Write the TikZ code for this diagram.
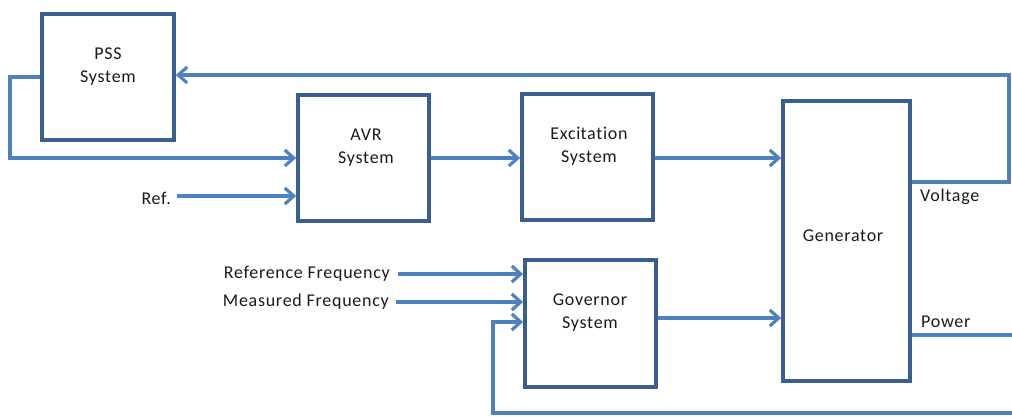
\documentclass[tikz,border=0pt]{standalone}
\usepackage{fontspec}
\setmainfont{Carlito}[LetterSpace=4,Ligatures={NoCommon}]
\usetikzlibrary{arrows.meta}
\definecolor{boxc}{HTML}{3A5F8E}
\definecolor{linec}{HTML}{4F81BD}
\definecolor{txt}{HTML}{1A1A1A}
\begin{document}
\begin{tikzpicture}[x=1pt,y=-1pt,
  blk/.style={draw=boxc,line width=3.6pt,minimum width=#1,inner sep=0pt},
  lbl/.style={text=txt,font=\fontsize{18}{23}\selectfont,align=center,inner sep=0pt},
  conn/.style={draw=linec,line width=3.2pt,-{Straight Barb[length=9pt,width=16pt,line width=3.2pt]}},
  plain/.style={draw=linec,line width=3.2pt}]
\useasboundingbox (0,0) rectangle (1012,417);
\node[blk=132pt,minimum height=126pt] (pss) at (108,77) {};
\node[blk=131pt,minimum height=126pt] (avr) at (363.5,158) {};
\node[blk=131pt,minimum height=126pt] (exc) at (587.5,157) {};
\node[blk=131pt,minimum height=127pt] (gov) at (590.5,323.5) {};
\node[blk=127pt,minimum height=280pt] (gen) at (846.5,241) {};
\node[lbl] (pssT) at (108,67) {PSS\\System};
\node[lbl] (avrT) at (366,148) {AVR\\System};
\node[lbl] (excT) at (589,146) {Exci\kern0pt tation\\System};
\node[lbl] (govT) at (590,313) {Governor\\System};
\node[lbl] (genT) at (843,236) {Generator};
\node[lbl,anchor=east] (ref) at (171,198) {Ref.};
\node[lbl,anchor=east] (rf) at (390,274) {Reference Frequency};
\node[lbl,anchor=east] (mf) at (389,302) {Measured Frequency};
\node[lbl,anchor=west] (volt) at (920,197) {Voltage};
\node[lbl,anchor=west] (pow) at (921,322) {Power};
\coordinate (vr) at (1009,182);
\coordinate (vt) at (1009,75);
\coordinate (pl) at (10,77);
\coordinate (pe) at (1014,335);
\coordinate (be) at (1014,413);
\coordinate (bl) at (493,413);
% connectors
\draw[conn] (gen.east |- vr) -- (vr) -- (vt) -- (pss.east |- vt);
\draw[conn] (pss.west |- pl) -- (pl) |- (avr.west |- 0,158);
\draw[conn] ([xshift=6pt]ref.east |- 0,196) -- (avr.west |- 0,196);
\draw[conn] (avr.east |- 0,158) -- (exc.west |- 0,158);
\draw[conn] (exc.east |- 0,158) -- (gen.west |- 0,158);
\draw[conn] (gov.east |- 0,318) -- (gen.west |- 0,318);
\draw[conn] ([xshift=8pt]rf.east |- 0,274) -- (gov.west |- 0,274);
\draw[conn] ([xshift=7pt]mf.east |- 0,302) -- (gov.west |- 0,302);
\draw[plain] (gen.east |- pe) -- (pe);
\draw[conn] (be) -- (bl) |- (gov.west |- 0,322);
\end{tikzpicture}
\end{document}
